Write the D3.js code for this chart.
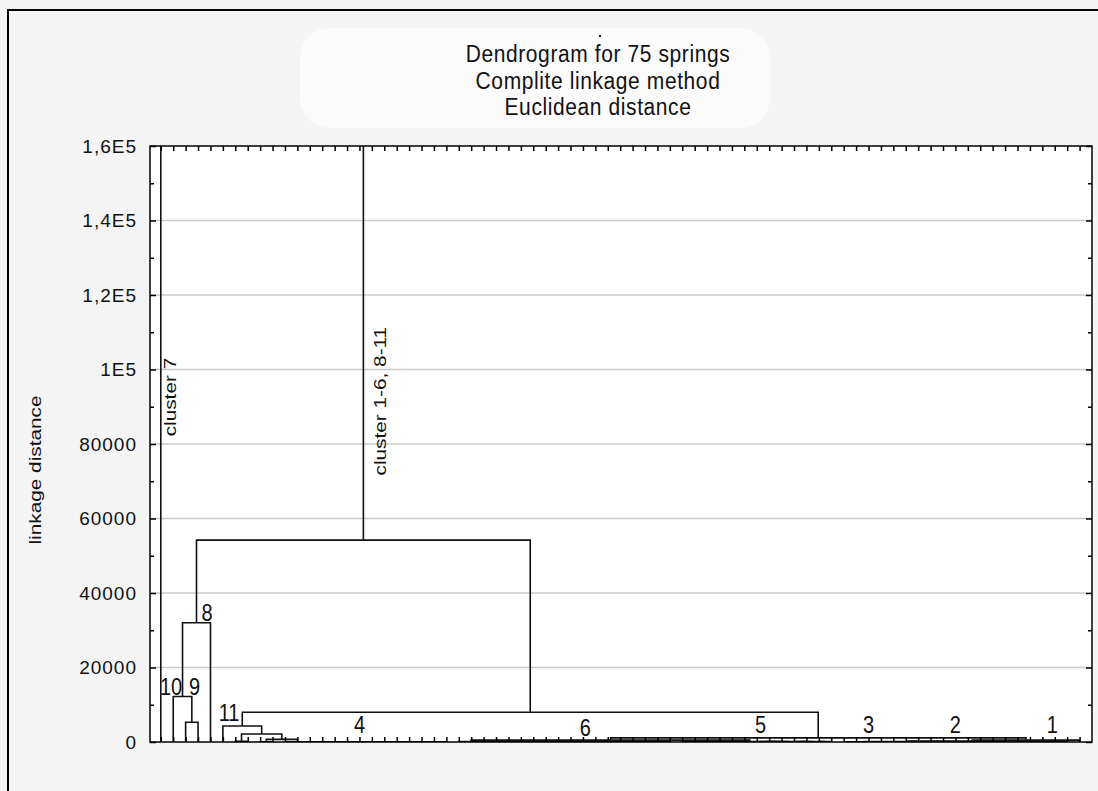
<!DOCTYPE html>
<html>
<head>
<meta charset="utf-8">
<script src="https://cdn.jsdelivr.net/npm/d3@7"></script>
<style>
  html, body { margin: 0; padding: 0; background: #f4f4f4; }
  svg { display: block; }
  text { font-family: "Liberation Sans", Arial, sans-serif; fill: #111; }
</style>
</head>
<body>
<svg id="chart" width="1098" height="791"></svg>
<script>
// Leaf groups, left to right (75 springs in total)
const groupNames   = ["c7", "c10", "c9", "c8", "c11", "c11b", "c4a", "c4b", "c6", "c5", "c3", "c2", "c1a", "c1b"];
const groupSizes   = [1, 1, 2, 1, 1, 2, 2, 14, 18, 13, 5, 9, 5, 1];
const groupHeights = [0, 0, 5300, 0, 0, 200, 60, 60, 120, 120, 40, 40, 40, 0];
const groupShapes  = ["leaf", "leaf", "balanced", "leaf", "leaf", "balanced", "balanced", "chain", "chain", "balanced", "balanced", "balanced", "balanced", "leaf"];

// Upper merges between groups / nodes
const mergeNames   = ["n4", "n11b", "n11", "n32", "n1", "nx", "nl", "nr", "n8k", "n109", "n8", "n54", "root"];
const mergeLeft    = ["c4a", "c11b", "c11", "c3", "n32", "n1", "c6", "nl", "n11", "c10", "n109", "n8", "c7"];
const mergeRight   = ["c4b", "n4", "n11b", "c2", "c1a", "c1b", "c5", "nx", "nr", "c9", "c8", "n8k", "n54"];
const mergeHeights = [700, 2150, 4300, 150, 250, 500, 500, 1100, 8000, 12200, 32000, 54200, 175000];

const yTickValues = [0, 20000, 40000, 60000, 80000, 100000, 120000, 140000, 160000];
const yTickLabels = ["0", "20000", "40000", "60000", "80000", "1E5", "1,2E5", "1,4E5", "1,6E5"];
const yMinorTicks = [10000, 30000, 50000, 70000, 90000, 110000, 130000, 150000];

const titleLines = ["Dendrogram for 75 springs", "Complite linkage method", "Euclidean distance"];
const yAxisTitle = "linkage distance";

// rotated branch annotations (x in leaf units, y in distance units)
const branchLabels     = ["cluster 7", "cluster 1-6, 8-11"];
const branchLabelLeaf  = [1.75, 18.65];
const branchLabelValue = [92600, 91500];

// cluster numbers
const numberLabels     = ["10", "9", "8", "11", "4", "6", "5", "3", "2", "1"];
const numberLabelLeaf  = [1.83, 3.72, 4.73, 6.5, 17.0, 35.2, 49.3, 58.0, 65.0, 72.8];
const numberLabelValue = [12600, 12600, 32500, 5640, 2400, 1700, 2400, 2400, 2400, 2400];

const leafCount = 75;

const svg = d3.select("#chart");
const W = 1098, H = 791;
const plot = { left: 150, right: 1092, top: 146, bottom: 742 };

const x = d3.scaleLinear().domain([0.13, 76]).range([plot.left, plot.right]);
const y = d3.scaleLinear().domain([0, 160000]).range([plot.bottom, plot.top]);

// ---- build tree ----
let leafCounter = 0;
function makeLeaf() { return { leaf: leafCounter++, h: 0 }; }
function buildGroup(size, h, shape) {
    const leaves = d3.range(size).map(makeLeaf);
    if (size === 1) return leaves[0];
    if (shape === "chain") {
        let node = leaves[size - 1];
        for (let i = size - 2; i >= 0; i--) node = { h, children: [leaves[i], node] };
        return node;
    }
    const split = arr => {
        if (arr.length === 1) return arr[0];
        const m = Math.floor(arr.length / 2);
        return { h, children: [split(arr.slice(0, m)), split(arr.slice(m))] };
    };
    return split(leaves);
}
const nodes = {};
groupNames.forEach((name, i) => { nodes[name] = buildGroup(groupSizes[i], groupHeights[i], groupShapes[i]); });
mergeNames.forEach((name, i) => {
    nodes[name] = { h: mergeHeights[i], children: [nodes[mergeLeft[i]], nodes[mergeRight[i]]] };
});
const root = d3.hierarchy(nodes.root);
root.eachAfter(d => {
    d.px = d.children ? d3.mean(d.children, c => c.px) : x(d.data.leaf + 1);
});

// ---- background ----
svg.append("rect").attr("width", W).attr("height", H).attr("fill", "#f4f4f4");
svg.append("rect").attr("x", 300).attr("y", 28).attr("width", 470).attr("height", 100)
    .attr("rx", 30).attr("fill", "#fbfbfb");
svg.append("line").attr("x1", 8).attr("x2", W).attr("y1", 10).attr("y2", 10)
    .attr("stroke", "#000").attr("stroke-width", 2);
svg.append("line").attr("x1", 8).attr("x2", 8).attr("y1", 9).attr("y2", H)
    .attr("stroke", "#000").attr("stroke-width", 2);

svg.append("rect")
    .attr("x", plot.left).attr("y", plot.top)
    .attr("width", plot.right - plot.left).attr("height", plot.bottom - plot.top)
    .attr("fill", "#fff");

svg.append("clipPath").attr("id", "clip").append("rect")
    .attr("x", plot.left).attr("y", plot.top)
    .attr("width", plot.right - plot.left).attr("height", plot.bottom - plot.top);

// gridlines
svg.append("g").selectAll("line")
    .data(yTickValues.slice(1, -1))
    .join("line")
    .attr("x1", plot.left).attr("x2", plot.right)
    .attr("y1", d => y(d)).attr("y2", d => y(d))
    .attr("stroke", "#cacaca").attr("stroke-width", 1.5);

// dendrogram links
svg.append("g").attr("clip-path", "url(#clip)")
    .selectAll("path")
    .data(root.descendants().filter(d => d.children))
    .join("path")
    .attr("fill", "none")
    .attr("stroke", "#111")
    .attr("stroke-width", 1.6)
    .attr("d", d => {
        const [a, b] = d.children;
        return `M${a.px},${y(a.data.h)}V${y(d.data.h)}H${b.px}V${y(b.data.h)}`;
    });

// ---- axes (ticks inward) ----
const leafTicks = d3.range(1, leafCount + 1);
function styleAxis(g) {
    g.select(".domain").remove();
    g.selectAll(".tick line").attr("stroke", "#000").attr("stroke-width", 1.5);
}
svg.append("g").attr("transform", `translate(0,${plot.top})`)
    .call(d3.axisTop(x).tickValues(leafTicks).tickSize(-5).tickFormat(""))
    .call(styleAxis);
svg.append("g").attr("transform", `translate(0,${plot.bottom})`)
    .call(d3.axisBottom(x).tickValues(leafTicks).tickSize(-5).tickFormat(""))
    .call(styleAxis);

const yLeft = svg.append("g").attr("transform", `translate(${plot.left},0)`)
    .call(d3.axisLeft(y).tickValues(yTickValues).tickSize(-6).tickPadding(13)
        .tickFormat((d, i) => yTickLabels[i]))
    .call(styleAxis);
yLeft.selectAll(".tick text")
    .attr("font-size", 19)
    .attr("letter-spacing", 1)
    .attr("font-family", "\"Liberation Sans\", Arial, sans-serif")
    .attr("fill", "#222");
svg.append("g").attr("transform", `translate(${plot.left},0)`)
    .call(d3.axisLeft(y).tickValues(yMinorTicks).tickSize(-4).tickFormat(""))
    .call(styleAxis);
svg.append("g").attr("transform", `translate(${plot.right},0)`)
    .call(d3.axisRight(y).tickValues(yTickValues).tickSize(-6).tickFormat(""))
    .call(styleAxis);
svg.append("g").attr("transform", `translate(${plot.right},0)`)
    .call(d3.axisRight(y).tickValues(yMinorTicks).tickSize(-4).tickFormat(""))
    .call(styleAxis);

// frame
svg.append("rect")
    .attr("x", plot.left).attr("y", plot.top)
    .attr("width", plot.right - plot.left).attr("height", plot.bottom - plot.top)
    .attr("fill", "none").attr("stroke", "#000").attr("stroke-width", 1.5);

// ---- texts ----
svg.append("rect").attr("x", 599).attr("y", 35).attr("width", 2).attr("height", 2).attr("fill", "#222");
svg.append("g").selectAll("text")
    .data(titleLines)
    .join("text")
    .attr("text-anchor", "middle")
    .attr("font-size", 21)
    .attr("letter-spacing", 0.6)
    .attr("transform", (d, i) => `translate(598,${62 + i * 26.5}) scale(1,1.1)`)
    .text(d => d);

svg.append("text")
    .attr("text-anchor", "middle")
    .attr("font-size", 16)
    .attr("transform", `translate(41,470) rotate(-90) scale(1.3,1)`)
    .text(yAxisTitle);

svg.append("g").selectAll("text")
    .data(branchLabels)
    .join("text")
    .attr("text-anchor", "middle")
    .attr("font-size", 16)
    .attr("transform", (d, i) =>
        `translate(${x(branchLabelLeaf[i]) + 6},${y(branchLabelValue[i])}) rotate(-90) scale(1.3,1)`)
    .text(d => d);

svg.append("g").selectAll("text")
    .data(numberLabels)
    .join("text")
    .attr("text-anchor", "middle")
    .attr("font-size", 20)
    .attr("transform", (d, i) =>
        `translate(${x(numberLabelLeaf[i])},${y(numberLabelValue[i])}) scale(1,1.2)`)
    .text(d => d);
</script>
</body>
</html>
